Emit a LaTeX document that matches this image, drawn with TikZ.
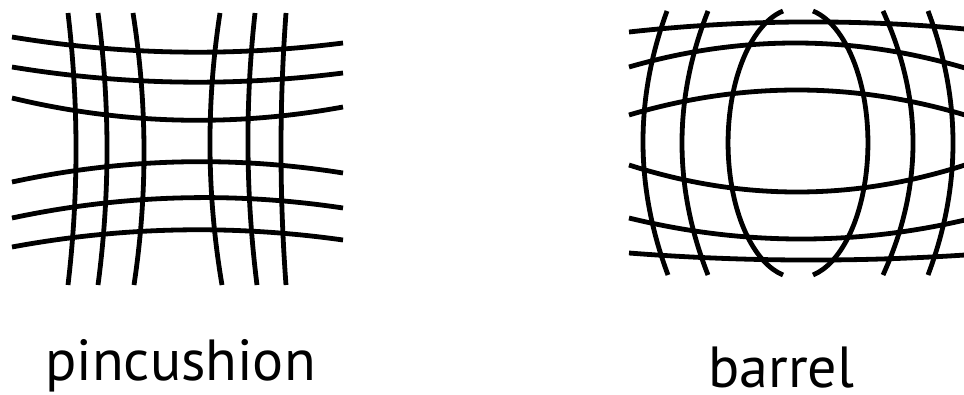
\documentclass[tikz,border=0pt]{standalone}
\usepackage{fontspec}
\setmainfont{PT Sans}
\tikzset{gridline/.style={line width=4.8pt,black,line cap=butt},
  label/.style={inner sep=0pt,anchor=base west,font=\fontsize{58}{60}\selectfont}}
\newcommand\qcurve[6]{%
  \pgfmathsetmacro\qqx{2*#3-0.5*#1-0.5*#5}%
  \pgfmathsetmacro\qqy{2*#4-0.5*#2-0.5*#6}%
  \pgfmathsetmacro\qax{#1/3+2*\qqx/3}%
  \pgfmathsetmacro\qay{#2/3+2*\qqy/3}%
  \pgfmathsetmacro\qbx{#5/3+2*\qqx/3}%
  \pgfmathsetmacro\qby{#6/3+2*\qqy/3}%
  \draw[gridline] (#1,#2) .. controls (\qax,\qay) and (\qbx,\qby) .. (#5,#6);}
\begin{document}
\begin{tikzpicture}[x=1pt,y=-1pt]
\useasboundingbox (0,0) rectangle (964,394);
\begin{scope}
\clip (0,0) rectangle (964,394);
% pincushion verticals
\qcurve{68}{13}{76}{149}{68}{285}
\qcurve{98}{13}{107}{149}{98}{285}
\qcurve{133}{13}{144}{149}{134}{285}
\qcurve{220}{13}{210}{149}{222}{285}
\qcurve{255}{13}{248}{149}{257}{285}
\qcurve{286}{13}{281}{149}{286}{285}
% pincushion horizontals
\qcurve{12}{37}{177}{52}{343}{43}
\qcurve{12}{67}{177}{82}{343}{73}
\qcurve{12}{98}{177}{120}{343}{107}
\qcurve{12}{182}{177}{162}{343}{173}
\qcurve{12}{218}{177}{198}{343}{208}
\qcurve{12}{247}{177}{230}{343}{240}
% barrel verticals
\qcurve{667}{11}{643}{143}{668}{275}
\qcurve{708}{11}{682}{143}{708}{275}
\draw[gridline] (783,11) arc[start angle=102.1, end angle=257.9, x radius=69.5pt, y radius=135pt];
\draw[gridline] (813,11) arc[start angle=77.9, end angle=-77.9, x radius=69.5pt, y radius=135pt];
\qcurve{883}{11}{913}{143}{883}{275}
\qcurve{928}{11}{953}{143}{928}{275}
% barrel horizontals
\qcurve{629}{32}{797}{22}{965}{29}
\qcurve{629}{67}{797}{43}{965}{68}
\qcurve{629}{115}{797}{90}{965}{115}
\qcurve{629}{165}{797}{192}{965}{165}
\qcurve{629}{218}{797}{239}{965}{220}
\qcurve{629}{253}{797}{260}{965}{255}
\end{scope}
% labels
\node[label] (pin) at (45,380) {pincushion};
\node[label] (bar) at (708,387) {barrel};
\end{tikzpicture}
\end{document}
